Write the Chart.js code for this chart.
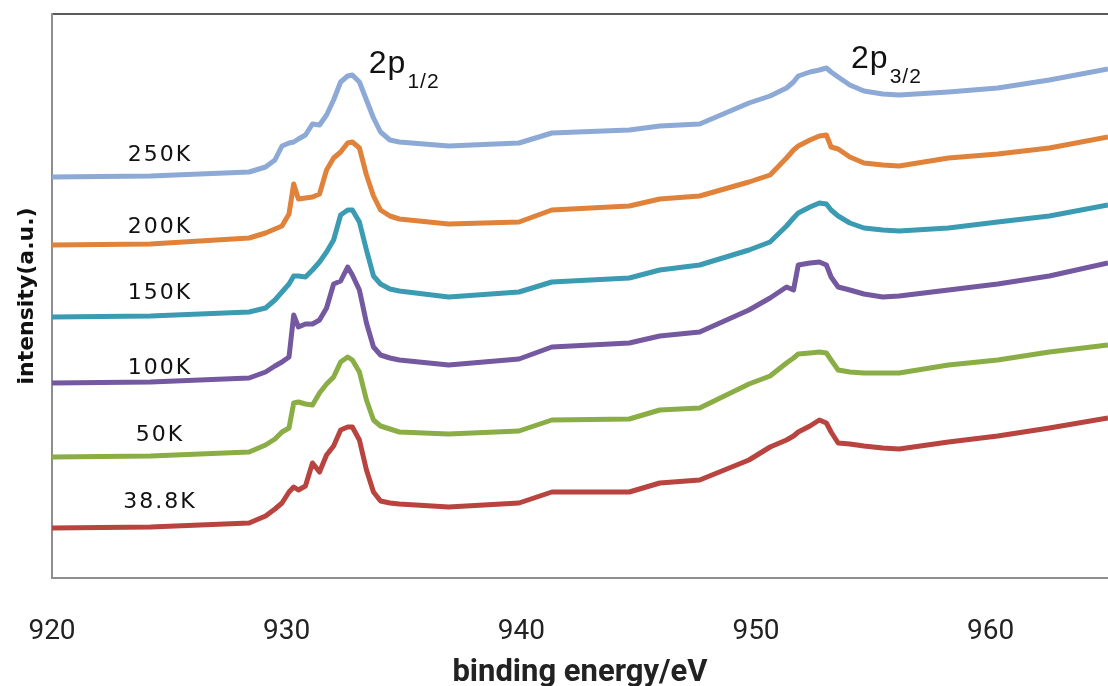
<!DOCTYPE html>
<html>
<head>
<meta charset="utf-8">
<script src="https://cdn.jsdelivr.net/npm/chart.js@4.4.1/dist/chart.umd.min.js"></script>
<style>
  html, body { margin: 0; padding: 0; background: #fff; }
  #wrap { width: 1108px; height: 686px; }
</style>
</head>
<body>
<div id="wrap"><canvas id="xpsChart" width="1108" height="686"></canvas></div>
<script>
// binding energy (eV), shared by all spectra
const energy = [920.0, 924.2, 928.4, 929.1, 929.5, 929.8, 930.1, 930.3, 930.5, 930.8,
  931.1, 931.4, 931.7, 932.0, 932.3, 932.6, 932.8, 933.1, 933.4, 933.7,
  934.0, 934.4, 934.8, 936.9, 939.9, 941.3, 944.6, 945.9, 947.6, 949.7,
  950.6, 951.3, 951.6, 951.8, 952.3, 952.7, 953.0, 953.2, 953.5, 954.0,
  954.6, 955.4, 956.1, 958.2, 960.3, 962.5, 965.0];

// intensity (a.u., curves offset for clarity)
const int250K = [401, 402, 406, 411, 418, 432, 435, 436, 439, 443,
  454, 453, 463, 478, 496, 502, 503, 496, 478, 460,
  446, 438, 436, 432, 435, 445, 448, 452, 454, 475,
  482, 490, 496, 502, 506, 508, 510, 506, 501, 493,
  487, 484, 483, 486, 490, 498, 509];
const int200K = [333, 334, 340, 345, 349, 352, 364, 394, 379, 380,
  381, 384, 408, 420, 426, 435, 436, 430, 403, 382,
  368, 362, 359, 354, 356, 368, 372, 379, 382, 396,
  403, 420, 428, 432, 438, 442, 443, 431, 429, 421,
  415, 413, 412, 420, 424, 430, 441];
const int150K = [261, 262, 266, 270, 278, 286, 294, 302, 302, 301,
  308, 316, 326, 338, 363, 368, 368, 356, 328, 302,
  294, 289, 287, 281, 286, 296, 300, 308, 313, 328,
  336, 352, 360, 365, 371, 375, 374, 368, 362, 355,
  350, 348, 347, 350, 356, 362, 373];
const int100K = [195, 196, 200, 206, 212, 216, 221, 263, 251, 254,
  254, 258, 270, 294, 297, 311, 303, 288, 255, 231,
  223, 220, 218, 213, 219, 231, 235, 242, 246, 268,
  280, 291, 288, 313, 315, 316, 313, 301, 291, 288,
  284, 281, 282, 288, 294, 302, 315];
const int50K = [121, 122, 126, 133, 139, 146, 150, 175, 176, 174,
  173, 185, 194, 201, 216, 221, 218, 206, 178, 158,
  152, 149, 146, 144, 147, 158, 159, 168, 170, 194,
  202, 215, 220, 224, 225, 226, 225, 218, 208, 206,
  205, 205, 205, 213, 218, 226, 233];
const int38K = [50, 51, 55, 62, 69, 75, 86, 91, 88, 92,
  115, 106, 123, 132, 148, 151, 151, 138, 108, 86,
  77, 75, 74, 71, 75, 86, 86, 95, 98, 118,
  131, 138, 142, 146, 152, 158, 155, 146, 135, 134,
  132, 130, 129, 136, 142, 150, 160];

const tempLabels = ['250K', '200K', '150K', '100K', '50K', '38.8K'];
const xTicks = [920, 930, 940, 950, 960];

const series = [int250K, int200K, int150K, int100K, int50K, int38K];
const colors = ['#8da9d5', '#e0823a', '#3a9bb2', '#7458a0', '#8aae45', '#b8433f'];

// where the text labels sit, in data units
const tempLabelPos = { e: 924.6, i: [423, 351, 285, 210, 143, 76] };
const peakLabels = [
  { main: '2p', sub: '1/2', e: 933.5, i: 505 },
  { main: '2p', sub: '3/2', e: 954.05, i: 510 }
];

const textLabels = {
  id: 'textLabels',
  afterDatasetsDraw(chart) {
    const { ctx, scales: { x, y } } = chart;
    ctx.save();
    ctx.fillStyle = '#111';
    ctx.textAlign = 'center';
    ctx.textBaseline = 'middle';
    ctx.font = '22px "DejaVu Sans"';
    ctx.letterSpacing = '2px';
    tempLabels.forEach((t, k) => {
      ctx.fillText(t, x.getPixelForValue(tempLabelPos.e), y.getPixelForValue(tempLabelPos.i[k]));
    });
    ctx.letterSpacing = '1px';
    ctx.textAlign = 'left';
    ctx.textBaseline = 'alphabetic';
    peakLabels.forEach(p => {
      const px = x.getPixelForValue(p.e);
      const py = y.getPixelForValue(p.i);
      ctx.font = '32px "Liberation Sans"';
      ctx.fillText(p.main, px, py);
      const w = ctx.measureText(p.main).width;
      ctx.font = '21px "Liberation Sans"';
      ctx.fillText(p.sub, px + w + 1, py + 15);
    });
    ctx.restore();
  }
};

new Chart(document.getElementById('xpsChart'), {
  type: 'line',
  data: {
    labels: energy,
    datasets: series.map((vals, k) => ({
      label: tempLabels[k],
      data: vals.map((v, j) => ({ x: energy[j], y: v })),
      borderColor: colors[k],
      borderWidth: 5,
      borderJoinStyle: 'round',
      pointRadius: 0,
      tension: 0,
      fill: false
    }))
  },
  options: {
    responsive: false,
    animation: false,
    devicePixelRatio: 1,
    layout: { padding: { top: 14, right: 0, bottom: 0, left: 0 } },
    plugins: { legend: { display: false }, tooltip: { enabled: false } },
    scales: {
      x: {
        type: 'linear',
        min: 920,
        max: 965,
        afterBuildTicks: scale => { scale.ticks = xTicks.map(v => ({ value: v })); },
        grid: { display: false, drawTicks: false },
        border: { display: true, color: '#8e8e8e', width: 2 },
        ticks: {
          padding: 4,
          color: '#222',
          font: { family: 'Roboto', size: 28, lineHeight: '100px' }
        },
        title: {
          display: true,
          text: 'binding energy/eV',
          color: '#222',
          font: { family: 'Roboto', size: 31, weight: 'bold', lineHeight: 1 },
          padding: { top: -28, bottom: -3 }
        }
      },
      xTop: {
        type: 'linear',
        position: 'top',
        min: 920,
        max: 965,
        grid: { display: false, drawTicks: false },
        border: { display: true, color: '#5a5a5a', width: 2 },
        ticks: { display: false }
      },
      y: {
        min: 0,
        max: 564,
        grid: { display: false, drawTicks: false },
        border: { display: true, color: '#8e8e8e', width: 2 },
        ticks: { display: false },
        title: {
          display: true,
          text: 'intensity(a.u.)',
          color: '#111',
          font: { family: 'DejaVu Sans', size: 22, weight: 'bold', lineHeight: 1 },
          padding: { top: 16, bottom: 14 }
        }
      }
    }
  },
  plugins: [textLabels]
});
</script>
</body>
</html>
